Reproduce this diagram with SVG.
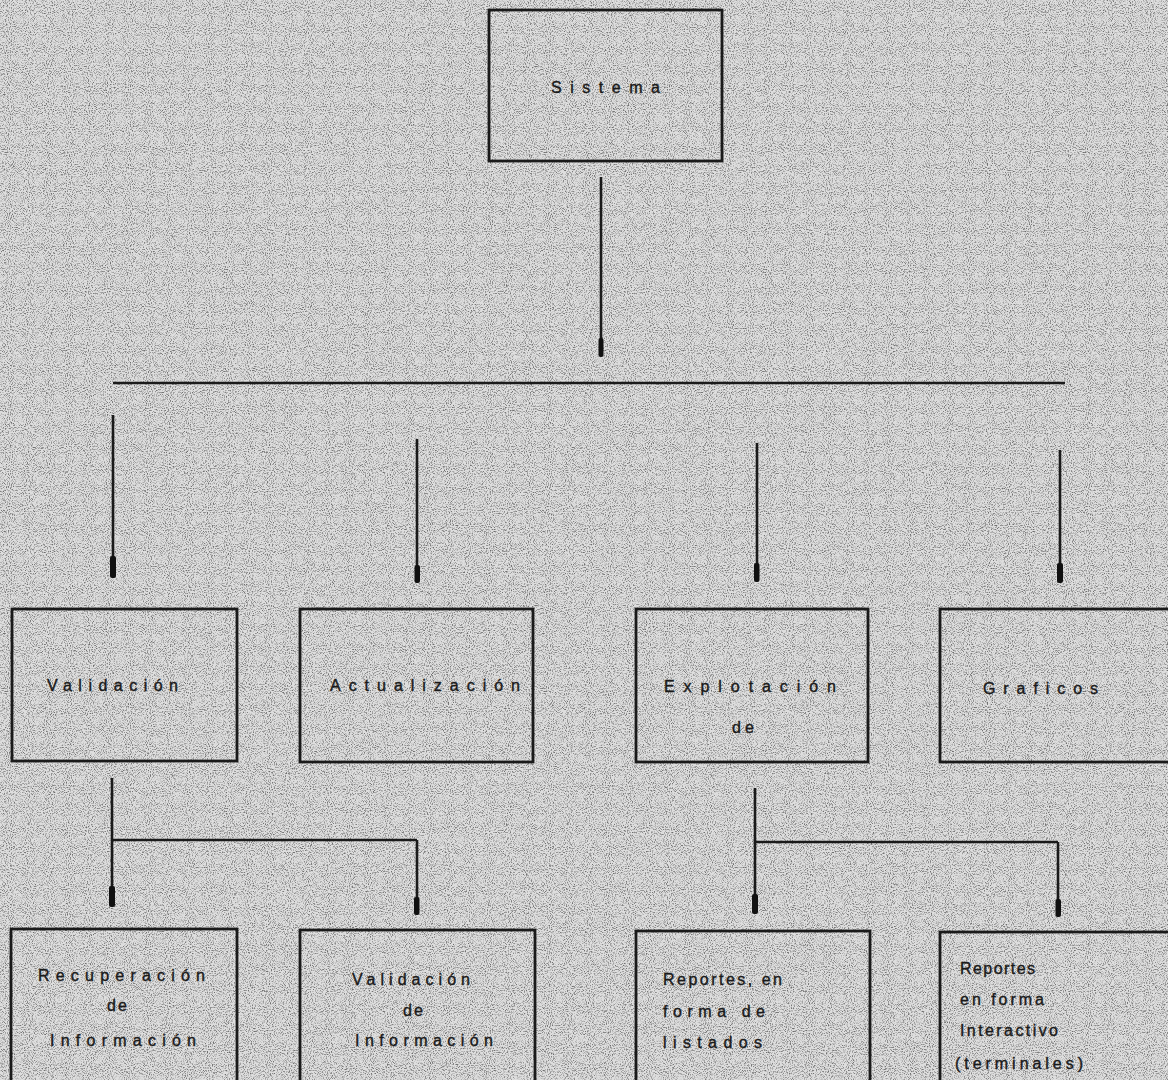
<svg xmlns="http://www.w3.org/2000/svg" width="1168" height="1080" viewBox="0 0 1168 1080">
<defs>
<filter id="grain" x="0" y="0" width="100%" height="100%">
<feTurbulence type="fractalNoise" baseFrequency="0.95" numOctaves="2" seed="3" result="n"/>
<feColorMatrix in="n" type="matrix" values="0 0 0 0 0  0 0 0 0 0  0 0 0 0 0  0 0 0 -3 1.6" result="a"/>
<feComposite in="a" in2="SourceGraphic" operator="in"/>
</filter>
<style>
.box{fill:none;stroke:#1a1a1a;stroke-width:2.8}
.ln{fill:none;stroke:#1a1a1a;stroke-width:2.6}
.blob{fill:#111}
.t{font-family:"Liberation Sans","DejaVu Sans",sans-serif;font-size:16px;fill:#1a1a1a;stroke:#1a1a1a;stroke-width:0.4}
</style>
</defs>
<rect x="0" y="0" width="1168" height="1080" fill="#dedede"/>
<rect x="0" y="0" width="1168" height="1080" fill="#6a6a6a" filter="url(#grain)" opacity="0.5"/>

<g id="connectors">
<line class="ln" x1="601" y1="177" x2="601" y2="355"/>
<rect class="blob" x="598.5" y="338" width="5" height="19" rx="2"/>
<line class="ln" x1="113" y1="383" x2="1065" y2="383"/>
<line class="ln" x1="113" y1="415" x2="113" y2="576"/>
<rect class="blob" x="110" y="556" width="6" height="22" rx="2"/>
<line class="ln" x1="417" y1="439" x2="417" y2="580"/>
<rect class="blob" x="414.5" y="565" width="5.5" height="18" rx="2"/>
<line class="ln" x1="757" y1="443" x2="757" y2="580"/>
<rect class="blob" x="754" y="563" width="5.5" height="19" rx="2"/>
<line class="ln" x1="1060" y1="450" x2="1060" y2="580"/>
<rect class="blob" x="1057" y="563" width="6" height="20" rx="2"/>
<line class="ln" x1="112" y1="778" x2="112" y2="905"/>
<line class="ln" x1="112" y1="840" x2="417" y2="840"/>
<line class="ln" x1="417" y1="840" x2="417" y2="913"/>
<rect class="blob" x="109" y="886" width="6" height="21" rx="2"/>
<rect class="blob" x="414" y="897" width="5.5" height="18" rx="2"/>
<line class="ln" x1="755" y1="788" x2="755" y2="912"/>
<line class="ln" x1="755" y1="842" x2="1058" y2="842"/>
<line class="ln" x1="1058" y1="842" x2="1058" y2="915"/>
<rect class="blob" x="752" y="894" width="6" height="20" rx="2"/>
<rect class="blob" x="1055.5" y="899" width="5.5" height="18" rx="2"/>
</g>

<g id="sistema">
<rect class="box" x="489" y="10" width="233" height="151"/>
<text class="t" x="551" y="93" textLength="109" lengthAdjust="spacing">Sistema</text>
</g>

<g id="validacion">
<rect class="box" x="12" y="609" width="225" height="152"/>
<text class="t" x="47" y="691" textLength="131" lengthAdjust="spacing">Validación</text>
</g>

<g id="actualizacion">
<rect class="box" x="300" y="609" width="233" height="153"/>
<text class="t" x="330" y="691" textLength="190" lengthAdjust="spacing">Actualización</text>
</g>

<g id="explotacion">
<rect class="box" x="636" y="609" width="232" height="153"/>
<text class="t" x="664" y="692" textLength="172" lengthAdjust="spacing">Explotación</text>
<text class="t" x="732" y="733" textLength="22" lengthAdjust="spacing">de</text>
</g>

<g id="graficos">
<rect class="box" x="940" y="609" width="240" height="153"/>
<text class="t" x="983" y="694" textLength="115" lengthAdjust="spacing">Graficos</text>
</g>

<g id="recuperacion">
<rect class="box" x="11" y="929" width="226" height="160"/>
<text class="t" x="38" y="981" textLength="167" lengthAdjust="spacing">Recuperación</text>
<text class="t" x="107" y="1011" textLength="20" lengthAdjust="spacing">de</text>
<text class="t" x="50" y="1046" textLength="146" lengthAdjust="spacing">Información</text>
</g>

<g id="validacion-info">
<rect class="box" x="300" y="930" width="235" height="160"/>
<text class="t" x="352" y="985" textLength="118" lengthAdjust="spacing">Validación</text>
<text class="t" x="403" y="1016" textLength="20" lengthAdjust="spacing">de</text>
<text class="t" x="355" y="1046" textLength="138" lengthAdjust="spacing">Información</text>
</g>

<g id="reportes-listados">
<rect class="box" x="636" y="931" width="234" height="160"/>
<text class="t" x="663" y="985" textLength="119" lengthAdjust="spacing">Reportes, en</text>
<text class="t" x="663" y="1017" textLength="102" lengthAdjust="spacing">forma de</text>
<text class="t" x="663" y="1048" textLength="99" lengthAdjust="spacing">listados</text>
</g>

<g id="reportes-interactivo">
<rect class="box" x="940" y="932" width="240" height="160"/>
<text class="t" x="960" y="974" textLength="75" lengthAdjust="spacing">Reportes</text>
<text class="t" x="960" y="1005" textLength="84" lengthAdjust="spacing">en forma</text>
<text class="t" x="960" y="1036" textLength="98" lengthAdjust="spacing">Interactivo</text>
<text class="t" x="955" y="1069" textLength="128" lengthAdjust="spacing">(terminales)</text>
</g>
</svg>
